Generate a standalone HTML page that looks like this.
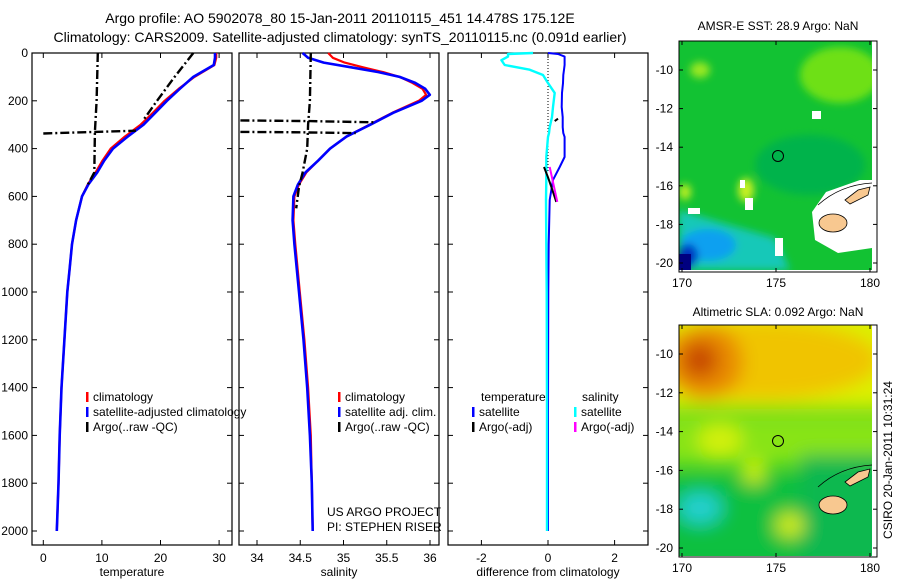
<!DOCTYPE html>
<html><head><meta charset="utf-8"><style>
html,body{margin:0;padding:0;background:#fff;}
svg{display:block;font-family:"Liberation Sans",sans-serif;}
</style></head><body>
<svg id="fig" width="900" height="580" viewBox="0 0 900 580" xmlns="http://www.w3.org/2000/svg">
<defs>
<filter id="bl1" x="-20%" y="-20%" width="140%" height="140%"><feGaussianBlur stdDeviation="4"/></filter>
<filter id="bl2" x="-30%" y="-30%" width="160%" height="160%"><feGaussianBlur stdDeviation="9"/></filter>
<clipPath id="cm1"><rect x="679" y="41" width="193" height="229"/></clipPath>
<clipPath id="cm2"><rect x="679" y="325" width="193" height="231"/></clipPath>
</defs>
<text x="340" y="23" font-size="14" text-anchor="middle">Argo profile: AO 5902078_80 15-Jan-2011 20110115_451 14.478S 175.12E</text>
<text x="340" y="42" font-size="14" text-anchor="middle">Climatology: CARS2009. Satellite-adjusted climatology: synTS_20110115.nc (0.091d earlier)</text>

<g id="p1"></g>
<g id="p2"></g>
<g id="p3"></g>

<!-- Map 1 -->
<g>
<text x="778" y="30" font-size="12" text-anchor="middle">AMSR-E SST: 28.9 Argo: NaN</text>
<g clip-path="url(#cm1)">
<rect x="679" y="41" width="193" height="229" fill="#12c233"/>
<g filter="url(#bl1)">
<ellipse cx="840" cy="75" rx="40" ry="28" fill="#6ee012"/>
<ellipse cx="700" cy="70" rx="10" ry="8" fill="#9ae820"/>
<ellipse cx="810" cy="165" rx="55" ry="30" fill="#05b34c"/>
<ellipse cx="746" cy="190" rx="8" ry="12" fill="#c8f020"/>
<ellipse cx="685" cy="192" rx="6" ry="8" fill="#c0f020"/>
<polygon points="679,210 730,225 775,238 790,270 679,270" fill="#14c8b8"/>
<ellipse cx="708" cy="245" rx="28" ry="16" fill="#0aa0f0"/>
<ellipse cx="688" cy="256" rx="10" ry="12" fill="#0030c0"/>
</g>
<rect x="679" y="254" width="12" height="16" fill="#000080"/>
<polygon points="812,212 826,192 860,180 872,180 872,248 838,253 815,240" fill="#fff"/>
<rect x="812" y="111" width="9" height="8" fill="#fff"/>
<rect x="740" y="180" width="5" height="8" fill="#fff"/>
<rect x="745" y="198" width="8" height="12" fill="#fff"/>
<rect x="688" y="208" width="12" height="6" fill="#fff"/>
<rect x="775" y="238" width="8" height="18" fill="#fff"/>
<ellipse cx="833" cy="223" rx="14" ry="9" fill="#f8c890" stroke="#000" stroke-width="0.8"/>
<polygon points="845,200 858,190 870,187 868,195 850,204" fill="#f8c890" stroke="#000" stroke-width="0.8"/>
<path d="M818,205 Q840,185 872,183" fill="none" stroke="#000" stroke-width="0.8"/>
</g>
<rect x="679" y="41" width="198" height="231" fill="none" stroke="#000" stroke-width="1"/>
<circle cx="778" cy="156" r="5.5" fill="none" stroke="#000" stroke-width="1"/>
</g>

<!-- Map 2 -->
<g>
<text x="778" y="316" font-size="12" text-anchor="middle">Altimetric SLA: 0.092 Argo: NaN</text>
<g clip-path="url(#cm2)">
<rect x="679" y="325" width="193" height="231" fill="#20c828"/>
<g filter="url(#bl2)">
<rect x="660" y="300" width="240" height="110" fill="#dcf000"/>
<ellipse cx="760" cy="360" rx="120" ry="40" fill="#f0c400"/>
<ellipse cx="705" cy="362" rx="38" ry="38" fill="#e88a00"/>
<ellipse cx="700" cy="360" rx="18" ry="18" fill="#c84800"/>
<rect x="660" y="415" width="240" height="50" fill="#88e418"/>
<ellipse cx="720" cy="440" rx="22" ry="18" fill="#d0f010"/>
<rect x="660" y="475" width="240" height="95" fill="#10c040"/>
<rect x="800" y="455" width="100" height="110" fill="#08b850"/>
<ellipse cx="700" cy="508" rx="22" ry="16" fill="#20d0d0"/>
<ellipse cx="754" cy="472" rx="12" ry="12" fill="#d0f000"/>
<ellipse cx="790" cy="525" rx="14" ry="12" fill="#d8f010"/>
</g>
<ellipse cx="833" cy="505" rx="14" ry="9" fill="#f8c890" stroke="#000" stroke-width="0.8"/>
<polygon points="845,482 858,472 870,469 868,477 850,486" fill="#f8c890" stroke="#000" stroke-width="0.8"/>
<path d="M818,487 Q840,467 872,465" fill="none" stroke="#000" stroke-width="0.8"/>
</g>
<rect x="679" y="325" width="198" height="232" fill="none" stroke="#000" stroke-width="1"/>
<circle cx="778" cy="441" r="5.5" fill="none" stroke="#000" stroke-width="1"/>
</g>
<text transform="translate(892,460) rotate(-90)" font-size="12" text-anchor="middle">CSIRO 20-Jan-2011 10:31:24</text>
<text x="327" y="516" font-size="12">US ARGO PROJECT</text>
<text x="327" y="531" font-size="12">PI: STEPHEN RISER</text>
</svg>
<script>
// ---- data ----
const depthT = [0,20,50,100,150,200,250,300,350,400,450,500,550,600,700,800,900,1000,1200,1400,1600,1800,2000];
const satT = [29.3,29.3,29.1,25.6,23.3,21.1,19.1,17.1,14.4,11.9,10.4,9.2,7.7,6.6,5.6,4.9,4.5,4.1,3.6,3.1,2.8,2.6,2.3];
const climT = [29.5,29.5,29.2,25.8,23.1,20.7,18.7,16.6,13.9,11.5,10.1,8.9,7.6,6.6,5.6,4.9,4.5,4.1,3.6,3.1,2.8,2.6,2.3];
const argoTDepth = [0,200,330,500,560,null,0,100,200,280,null,337,331,325];
const argoTVal = [9.3,9.1,8.8,8.7,7.4,null,25.6,22.4,19.4,17.1,null,0.0,7.7,15.8];

const depthS = [0,20,40,60,80,100,125,150,175,200,250,300,350,400,450,500,550,600,700,800,1000,1200,1400,1600,1800,2000];
const satS = [34.527,34.591,34.771,35.088,35.405,35.649,35.829,35.945,35.998,35.903,35.575,35.31,35.035,34.845,34.707,34.559,34.474,34.421,34.411,34.432,34.485,34.538,34.58,34.612,34.633,34.644];
const climS = [34.823,34.876,35.014,35.225,35.458,35.649,35.797,35.913,35.955,35.871,35.564,35.3,35.035,34.845,34.707,34.57,34.485,34.432,34.421,34.443,34.495,34.548,34.591,34.622,34.633,34.644];
const argoSDepth = [0,200,300,400,500,560,650,null,282,285,290,null,330,332,335];
const argoSVal = [34.622,34.612,34.591,34.58,34.527,34.485,34.453,null,33.808,34.612,35.352,null,33.808,34.506,35.141];

const depthD = [0,4,15,30,50,70,92,126,167,226,268,310,335,351,435,477,531,615,800,1000,1500,2000];
const diffTSat = [0,0.3,0.5,0.5,0.5,0.48,0.46,0.45,0.42,0.41,0.44,0.44,0.46,0.5,0.5,0.35,0.15,0.05,0.02,0.01,0,0];
const diffSSat = [-0.45,-1.2,-1.2,-1.4,-1.3,-0.55,-0.15,0.0,0.2,0.15,0.12,0.05,0.03,0.0,-0.05,-0.05,-0.05,-0.06,-0.05,-0.04,-0.03,-0.03];
const argoDTDepth = [285,275,null,477,520,560,623];
const argoDTVal = [0.2,0.3,null,-0.12,0.0,0.1,0.25];
const argoDSDepth = [477,623];
const argoDSVal = [0.05,0.28];

const depthTicks = [0,200,400,600,800,1000,1200,1400,1600,1800,2000];
const tempTicks = [0,10,20,30];
const salTicks = [34,34.5,35,35.5,36];
const diffTicks = [-2,0,2];

// ---- axes ----
const NS='http://www.w3.org/2000/svg';
const Y0=53, Y1=545;
const yD = d => 53 + d*0.239;
const xT = t => 43.3 + t*5.86;
const xS = s => 257 + (s-34)*86.5;
const xD = v => 548 + v*33.3;

function mk(tag, attrs, parent){
  const e=document.createElementNS(NS,tag);
  for(const k in attrs) e.setAttribute(k,attrs[k]);
  parent.appendChild(e); return e;
}
function pathFrom(depths, vals, xf){
  let d='', pen=false;
  for(let i=0;i<depths.length;i++){
    if(depths[i]===null||vals[i]===null){pen=false;continue;}
    d += (pen?'L':'M') + xf(vals[i]).toFixed(1)+','+yD(depths[i]).toFixed(1)+' ';
    pen=true;
  }
  return d;
}
function frame(g, x0, x1, ticks, xf, xlabel, showY){
  const r=mk('rect',{x:x0,y:Y0,width:x1-x0,height:Y1-Y0,fill:'none',stroke:'#000','stroke-width':1.2},g);
  
  
  depthTicks.forEach(d=>{
    mk('line',{x1:x0,x2:x0+5,y1:yD(d),y2:yD(d),stroke:'#000'},g);
    mk('line',{x1:x1-5,x2:x1,y1:yD(d),y2:yD(d),stroke:'#000'},g);
    if(showY){
      const t=mk('text',{x:x0-4,y:yD(d)+4,'font-size':12,'text-anchor':'end'},g);
      t.textContent=d;
      
      
    }
  });
  ticks.forEach(v=>{
    mk('line',{x1:xf(v),x2:xf(v),y1:Y1,y2:Y1-5,stroke:'#000'},g);
    mk('line',{x1:xf(v),x2:xf(v),y1:Y0,y2:Y0+5,stroke:'#000'},g);
    const t=mk('text',{x:xf(v),y:562,'font-size':12,'text-anchor':'middle'},g);
    t.textContent=v;
    
    
  });
  const t=mk('text',{x:(x0+x1)/2,y:576,'font-size':12,'text-anchor':'middle'},g);
  t.textContent=xlabel;
  
  
}
function line(g, depths, vals, xf, color, w, dash, name){
  const p=mk('path',{d:pathFrom(depths,vals,xf),fill:'none',stroke:color,'stroke-width':w,'stroke-linejoin':'round'},g);
  if(dash) p.setAttribute('stroke-dasharray',dash);
  
  
}
function legend(g, x, y, color, label){
  mk('rect',{x:x,y:y-9,width:2.5,height:10,fill:color},g);
  const t=mk('text',{x:x+7,y:y,'font-size':12},g);
  t.textContent=label;
  
  
}

const p1=document.getElementById('p1');
frame(p1,32,232,tempTicks,xT,'temperature',true);
line(p1,depthT,climT,xT,'#f00',2.2,null,'temperature-climatology-line');
line(p1,depthT,satT,xT,'#00f',2.6,null,'temperature-satellite-line');
line(p1,argoTDepth,argoTVal,xT,'#000',2.4,'9,3,2,3','temperature-argo-line');
legend(p1,86,401,'#f00','climatology');
legend(p1,86,416,'#00f','satellite-adjusted climatology');
legend(p1,86,431,'#000','Argo(..raw -QC)');

const p2=document.getElementById('p2');
frame(p2,239,439,salTicks,xS,'salinity',false);
line(p2,depthS,climS,xS,'#f00',2.2,null,'salinity-climatology-line');
line(p2,depthS,satS,xS,'#00f',2.6,null,'salinity-satellite-line');
line(p2,argoSDepth,argoSVal,xS,'#000',2.4,'9,3,2,3','salinity-argo-line');
legend(p2,338,401,'#f00','climatology');
legend(p2,338,416,'#00f','satellite adj. clim.');
legend(p2,338,431,'#000','Argo(..raw -QC)');

const p3=document.getElementById('p3');
frame(p3,448,648,diffTicks,xD,'difference from climatology',false);
mk('line',{x1:xD(0),x2:xD(0),y1:yD(0),y2:yD(500),stroke:'#000','stroke-width':1,'stroke-dasharray':'1,2'},p3);
line(p3,depthD,diffTSat,xD,'#00f',2,null,'temperature-difference-line');
line(p3,depthD,diffSSat,xD,'#0ff',2.4,null,'salinity-difference-line');
line(p3,argoDTDepth,argoDTVal,xD,'#000',2,null,'argo-temperature-difference-line');
line(p3,argoDSDepth,argoDSVal,xD,'#f0f',2,null,'argo-salinity-difference-line');
const lt=mk('text',{x:481,y:401,'font-size':12},p3); lt.textContent='temperature';


const ls=mk('text',{x:582,y:401,'font-size':12},p3); ls.textContent='salinity';


legend(p3,472,416,'#00f','satellite');
legend(p3,472,431,'#000','Argo(-adj)');
legend(p3,574,416,'#0ff','satellite');
legend(p3,574,431,'#f0f','Argo(-adj)');

// ---- map axes ----
const fig=document.getElementById('fig');
const lonTicks=[170,175,180];
const latTicks=[-10,-12,-14,-16,-18,-20];
function mapAxes(yTop,yBot,y10,y20){
  const g=mk('g',{},fig);
  
  
  const ly=lat=>y10+(-10-lat)*(y20-y10)/10;
  const lx=lon=>682+(lon-170)*18.8;
  latTicks.forEach(l=>{
    mk('line',{x1:679,x2:683,y1:ly(l),y2:ly(l),stroke:'#000'},g);
    mk('line',{x1:873,x2:877,y1:ly(l),y2:ly(l),stroke:'#000'},g);
    const t=mk('text',{x:673,y:ly(l)+4,'font-size':12,'text-anchor':'end'},g);
    t.textContent=l;
    
    
  });
  lonTicks.forEach(l=>{
    mk('line',{x1:lx(l),x2:lx(l),y1:yBot,y2:yBot-4,stroke:'#000'},g);
    mk('line',{x1:lx(l),x2:lx(l),y1:yTop,y2:yTop+4,stroke:'#000'},g);
    const t=mk('text',{x:lx(l),y:yBot+15,'font-size':12,'text-anchor':'middle'},g);
    t.textContent=l;
    
    
  });
}
mapAxes(41,272,70,263);
mapAxes(325,557,354,548);
</script>
</body></html>
